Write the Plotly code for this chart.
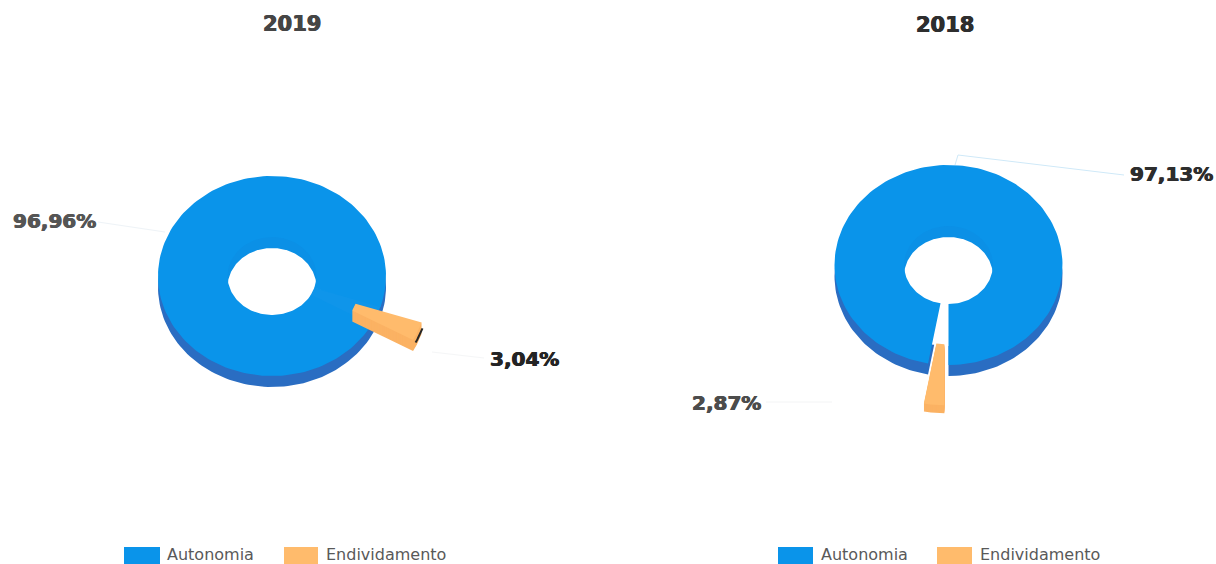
import math
import plotly.graph_objects as go

# Shares per year, in percent
years = ["2019", "2018"]
categories = ["Autonomia", "Endividamento"]
autonomia = [96.96, 97.13]
endividamento = [3.04, 2.87]
value_labels = [["96,96%", "3,04%"], ["97,13%", "2,87%"]]

# Ring geometry, in page pixels
CENTERS = [(272, 276), (948.5, 265)]
RX, RY, HOLE = 114, 100, 0.39
DEPTH = 11
EXPLODE = [45, 46]
SLICE_DEPTH = [11, 8]
SLICE_START = [108.0, 180.0]   # degrees clockwise from 12 o'clock

BLUE = "#0a94ea"
BLUE_WALL = "#0b90e6"
BLUE_SIDE = "#2a6dc2"
ORANGE = "#ffbb6c"
ORANGE_SIDE = "#fbb263"
DARK = "#262626"


def ring(cx, cy, start, sweep, inner=HOLE, outer=1.0, steps=180):
    """Outline of a flattened ring sector; angles run clockwise from the top."""
    angles = [math.radians(start + sweep * i / steps) for i in range(steps + 1)]
    xs = [cx + outer * RX * math.sin(a) for a in angles]
    ys = [cy - outer * RY * math.cos(a) for a in angles]
    xs += [cx + inner * RX * math.sin(a) for a in reversed(angles)]
    ys += [cy - inner * RY * math.cos(a) for a in reversed(angles)]
    return xs + xs[:1], ys + ys[:1]


def add_sector(fig, xy, color, name):
    fig.add_trace(go.Scatter(
        x=xy[0], y=xy[1], mode="lines", fill="toself", fillcolor=color,
        line=dict(width=0, color=color), name=name,
        hoverinfo="name", showlegend=False,
    ))


fig = go.Figure()

for i, year in enumerate(years):
    cx, cy = CENTERS[i]
    sweep_debt = endividamento[i] / 100 * 360
    sweep_auto = autonomia[i] / 100 * 360
    debt_start = SLICE_START[i]
    auto_start = debt_start + sweep_debt
    closed_notch = year == "2019"

    # Extruded walls sit under the top face; the hole's wall only shows on its far side
    wall_start = debt_start if closed_notch else auto_start
    wall_sweep = 360 if closed_notch else sweep_auto
    add_sector(fig, ring(cx, cy + DEPTH, -90, 180, HOLE, 0.7), BLUE_WALL, categories[0])
    add_sector(fig, ring(cx, cy + DEPTH, wall_start, wall_sweep, 0.7, 1.0), BLUE_SIDE, categories[0])
    if closed_notch:
        # The 2019 notch stays closed behind the pulled-out slice; it overlaps the
        # blue face by a degree on each side so no seam opens along its edges
        add_sector(fig, ring(cx, cy, debt_start - 1, sweep_debt + 2), "#0f95ea", categories[0])
    add_sector(fig, ring(cx, cy, auto_start, sweep_auto), BLUE, categories[0])

    # Pulled-out slice: several offset copies build up its thickness
    mid = math.radians(debt_start + sweep_debt / 2)
    ox = cx + EXPLODE[i] * math.sin(mid)
    oy = cy - EXPLODE[i] * RY / RX * math.cos(mid)
    for step in range(SLICE_DEPTH[i], 0, -1):
        add_sector(fig, ring(ox, oy + step, debt_start, sweep_debt, steps=12), ORANGE_SIDE, categories[1])
    add_sector(fig, ring(ox, oy, debt_start, sweep_debt), ORANGE, categories[1])
    if closed_notch:
        # Dark end face on the outer edge of the slice
        edge = ring(ox + 1.5, oy + 4, debt_start + sweep_debt * 0.1, sweep_debt * 0.8, 1.0, 1.0, steps=12)
        fig.add_trace(go.Scatter(
            x=edge[0][:13], y=edge[1][:13], mode="lines",
            line=dict(color=DARK, width=2), hoverinfo="skip", showlegend=False,
        ))

# Leader lines from the rings to their value labels
LEADERS = [
    ([98, 165], [222, 232], "#eef3f7"),
    ([432, 484], [352, 358], "#f5f6f7"),
    ([955, 958, 1124], [165, 155, 175], "#cfe9f8"),
    ([766, 832], [402, 402], "#f3f4f5"),
]
for lx, ly, color in LEADERS:
    fig.add_trace(go.Scatter(
        x=lx, y=ly, mode="lines", line=dict(color=color, width=1),
        hoverinfo="skip", showlegend=False,
    ))

FONT = "DejaVu Sans"
annotations = []


def label(x, y, text, size, color, bold=True, anchor="center"):
    # Bold labels get a hairline outline so the glyphs print heavy
    shadow = f"0.5px 0 0 {color}, -0.5px 0 0 {color}" if bold else "none"
    annotations.append(dict(
        x=x, y=y, xref="x", yref="y", text=f"<b>{text}</b>" if bold else text,
        showarrow=False, xanchor=anchor, yanchor="middle",
        font=dict(family=FONT, size=size, color=color, shadow=shadow),
    ))


label(292, 24, years[0], 21, "#454545")
label(945, 25, years[1], 21, "#2e2e2e")
label(54, 221, value_labels[0][0], 20, "#555555")
label(524, 359, value_labels[0][1], 20, "#242424")
label(1171, 174, value_labels[1][0], 20, "#2d2d2d")
label(726, 403, value_labels[1][1], 20, "#4c4c4c")

# Hand-laid key under each ring
shapes = []
KEYS = [
    (124, 160, 165, categories[0], BLUE),
    (284, 318, 324, categories[1], ORANGE),
    (778, 813, 819, categories[0], BLUE),
    (937, 972, 978, categories[1], ORANGE),
]
for x0, x1, text_x, name, color in KEYS:
    shapes.append(dict(type="rect", xref="x", yref="y", x0=x0, x1=x1, y0=547, y1=566,
                       fillcolor=color, line=dict(width=0)))
    label(text_x, 554, name, 16, "#595959", bold=False, anchor="left")

fig.update_layout(
    width=1216, height=564,
    margin=dict(l=0, r=0, t=0, b=0),
    paper_bgcolor="white", plot_bgcolor="white",
    showlegend=False,
    xaxis=dict(range=[0, 1216], visible=False, fixedrange=True),
    yaxis=dict(range=[564, 0], visible=False, fixedrange=True),
    annotations=annotations, shapes=shapes,
)

fig.write_html("out.html", config={"displayModeBar": False})
